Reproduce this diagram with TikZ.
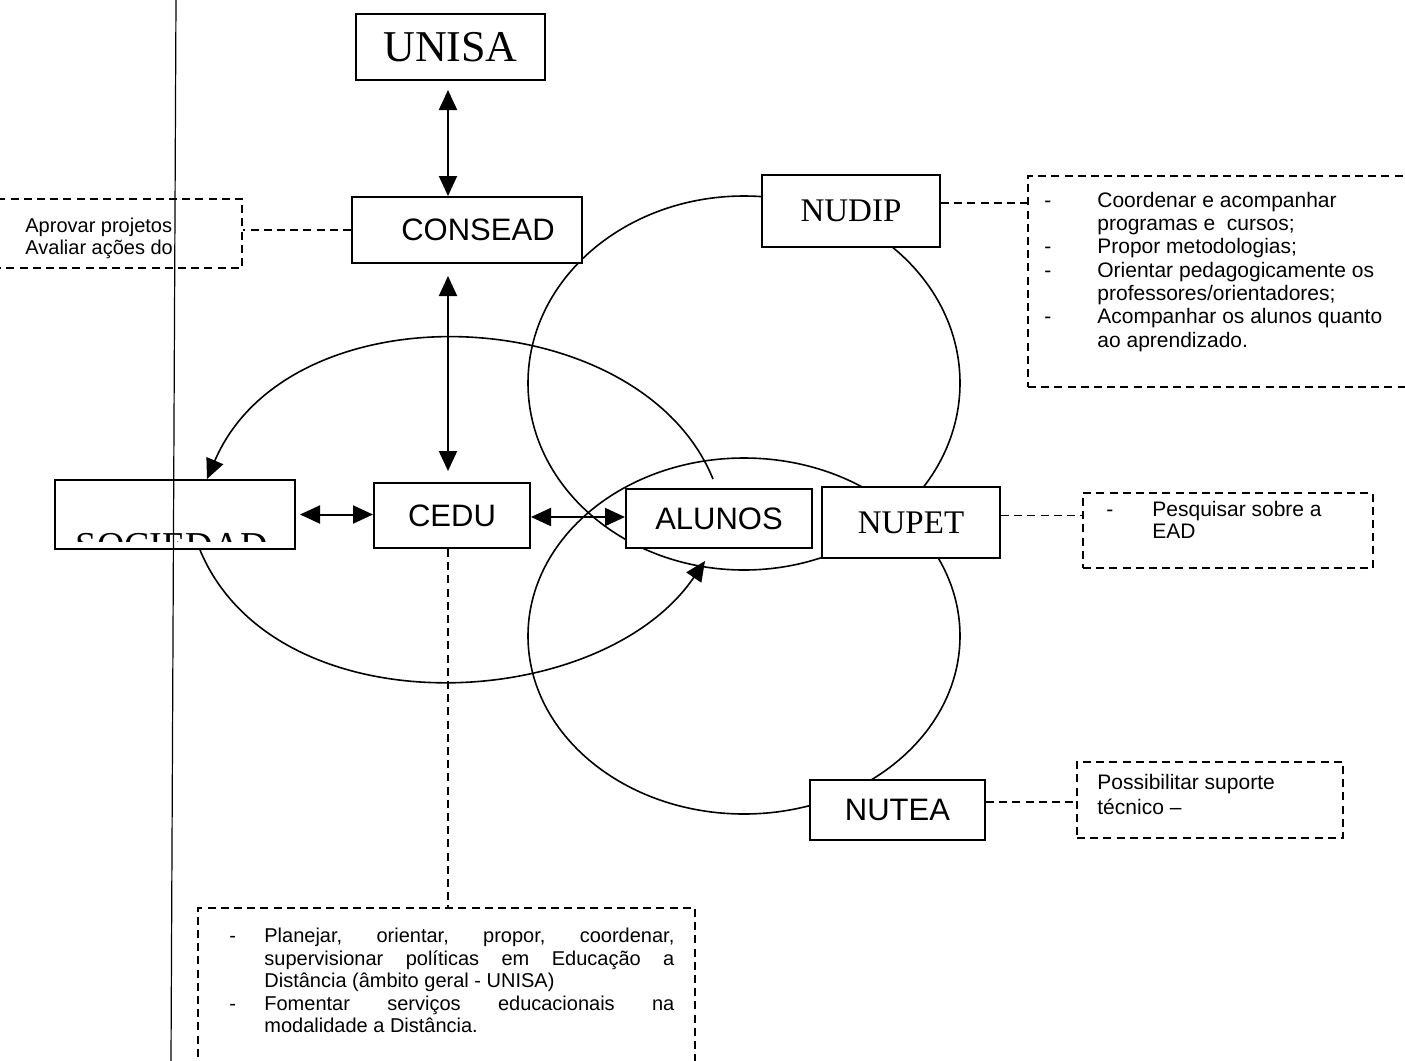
\documentclass[tikz,border=0pt]{standalone}
\usepackage{fontspec}
\setmainfont{Liberation Serif}
\setsansfont{Liberation Sans}
\usetikzlibrary{arrows.meta}
\begin{document}
\begin{tikzpicture}[x=0.5pt,y=-0.5pt,
  nbox/.style={draw, line width=1pt, fill=white, inner sep=0pt},
  seriflab/.style={font=\fontsize{16.5}{18}\selectfont},
  sanslab/.style={font=\sffamily\fontsize{15.5}{18}\selectfont},
  notebox/.style={draw, dash pattern=on 4pt off 2.6pt, line width=0.8pt, inner sep=0pt},
  dashline/.style={dash pattern=on 4pt off 2.6pt, line width=0.8pt},
  notetext/.style={align=left, inner sep=0pt, anchor=north west},
  biarrow/.style={line width=1pt, {Triangle[length=10pt,width=9pt]}-{Triangle[length=10pt,width=9pt]}},
  ring/.style={line width=0.8pt},
  curvearrow/.style={line width=0.8pt, -{Triangle[length=10pt,width=9pt]}},
]
\useasboundingbox (0,0) rectangle (1405,1061);
\clip (0,0) rectangle (1405,1061);
\fill[white] (0,0) rectangle (1405,1061);

% loops
\draw[ring] (744,383) ellipse [x radius=108pt, y radius=93.5pt];
\draw[ring] (744,636) ellipse [x radius=108pt, y radius=89pt];

% boxes
\node[nbox, minimum width=94.5pt, minimum height=33pt, font=\fontsize{22}{24}\selectfont] (unisa) at (450.5,47) {UNISA};
\node[nbox, minimum width=115pt, minimum height=33pt, sanslab] (consead) at (467,230) {\hspace*{11pt}CONSEAD};
\node[nbox, minimum width=89pt, minimum height=36pt, seriflab] (nudip) at (851,211) {NUDIP};
\node[nbox, minimum width=120pt, minimum height=34.5pt] (soc) at (175,514.5) {};
\begin{scope}
  \clip (56.5,481.5) rectangle (293.5,541);
  \node[font=\fontsize{19}{20}\selectfont, anchor=base, inner sep=0pt] (soctext) at (172,558) {SOCIEDAD};
\end{scope}
\node[nbox, minimum width=78pt, minimum height=32.5pt, sanslab] (cedu) at (452,515.5) {CEDU};
\node[nbox, minimum width=93pt, minimum height=29.5pt, sanslab] (alunos) at (719,518.5) {ALUNOS};
\node[nbox, minimum width=89pt, minimum height=35.5pt, seriflab] (nupet) at (911,522.5) {NUPET};
\node[nbox, minimum width=87.5pt, minimum height=30pt, sanslab] (nutea) at (897.5,810) {NUTEA};

% curved arrows between ALUNOS and SOCIEDAD
\draw[curvearrow] ([shift={(-6,-9)}]alunos.north) .. controls (640,300) and (290,285) .. ([xshift=16pt]soc.north);
\draw[curvearrow] ([xshift=12.5pt]soc.south) .. controls (275,730) and (600,715) .. ([shift={(-14,12)}]alunos.south);

% note boxes
\node[notebox, minimum width=131pt, minimum height=34.5pt] (lnote) at (111,233.5) {};
\node[notebox, minimum width=196pt, minimum height=105.5pt] (nnote) at (1224,281.5) {};
\node[notebox, minimum width=145pt, minimum height=37.5pt] (pnote) at (1228,530.5) {};
\node[notebox, minimum width=133pt, minimum height=38pt] (tnote) at (1210,800) {};
\node[notebox, minimum width=248.5pt, minimum height=86pt] (cnote) at (446.5,994) {};

% note texts
\node[notetext, font=\sffamily\fontsize{10}{11}\selectfont] (ltext) at (25,217.5)
  {Aprovar projetos\\Avaliar ações do};
\node[notetext, font=\sffamily\fontsize{10.5}{11.65}\selectfont] (ntext) at (1044,191.7)
  {\makebox[26.5pt][l]{-}Coordenar e acompanhar\\
   \hspace*{26.5pt}programas e\ \ cursos;\\
   \makebox[26.5pt][l]{-}Propor metodologias;\\
   \makebox[26.5pt][l]{-}Orientar pedagogicamente os\\
   \hspace*{26.5pt}professores/orientadores;\\
   \makebox[26.5pt][l]{-}Acompanhar os alunos quanto\\
   \hspace*{26.5pt}ao aprendizado.};
\node[notetext, font=\sffamily\fontsize{10.5}{11}\selectfont] (ptext) at (1106,500.7)
  {\makebox[23pt][l]{-}Pesquisar sobre a\\\hspace*{23pt}EAD};
\node[notetext, font=\sffamily\fontsize{10.5}{12.5}\selectfont] (ttext) at (1097,773.7)
  {Possibilitar suporte\\técnico –};
\node[notetext, font=\sffamily\fontsize{10}{11.25}\selectfont] (ctext) at (229,927.7)
  {\makebox[17.5pt][l]{-}\makebox[205pt][s]{Planejar, orientar, propor, coordenar,}\\
   \hspace*{17.5pt}\makebox[205pt][s]{supervisionar políticas em Educação a}\\
   \hspace*{17.5pt}Distância (âmbito geral - UNISA)\\
   \makebox[17.5pt][l]{-}\makebox[205pt][s]{Fomentar serviços educacionais na}\\
   \hspace*{17.5pt}modalidade a Distância.};

% dashed connectors
\draw[dashline] (consead.west) -- (consead.west -| lnote.east);
\draw[dashline] ([yshift=4pt]nudip.east) -- ([yshift=4pt]nudip.east -| nnote.west);
\draw[dashline] ([yshift=3.5pt]nupet.east) -- ([yshift=3.5pt]nupet.east -| pnote.west);
\draw[dashline] ([yshift=4pt]nutea.east) -- ([yshift=4pt]nutea.east -| tnote.west);
\draw[dashline] ([xshift=-2pt]cedu.south) -- ([xshift=-2pt]cedu.south |- cnote.north);

% double arrows
\draw[biarrow] ([shift={(-2.5,9)}]unisa.south) -- ([xshift=-1.25pt]unisa.south |- consead.north);
\draw[biarrow] ([shift={(-4,12)}]cedu.north |- consead.south) -- ([shift={(-4,-11)}]cedu.north);
\draw[biarrow] ([xshift=2pt]soc.east) -- (soc.east -| cedu.west);
\draw[biarrow] ([yshift=-0.75pt]cedu.east) -- ([yshift=-0.75pt]cedu.east -| alunos.west);

% scan line
\draw[line width=0.6pt] (176,0) -- (171,1061);
\end{tikzpicture}
\end{document}
